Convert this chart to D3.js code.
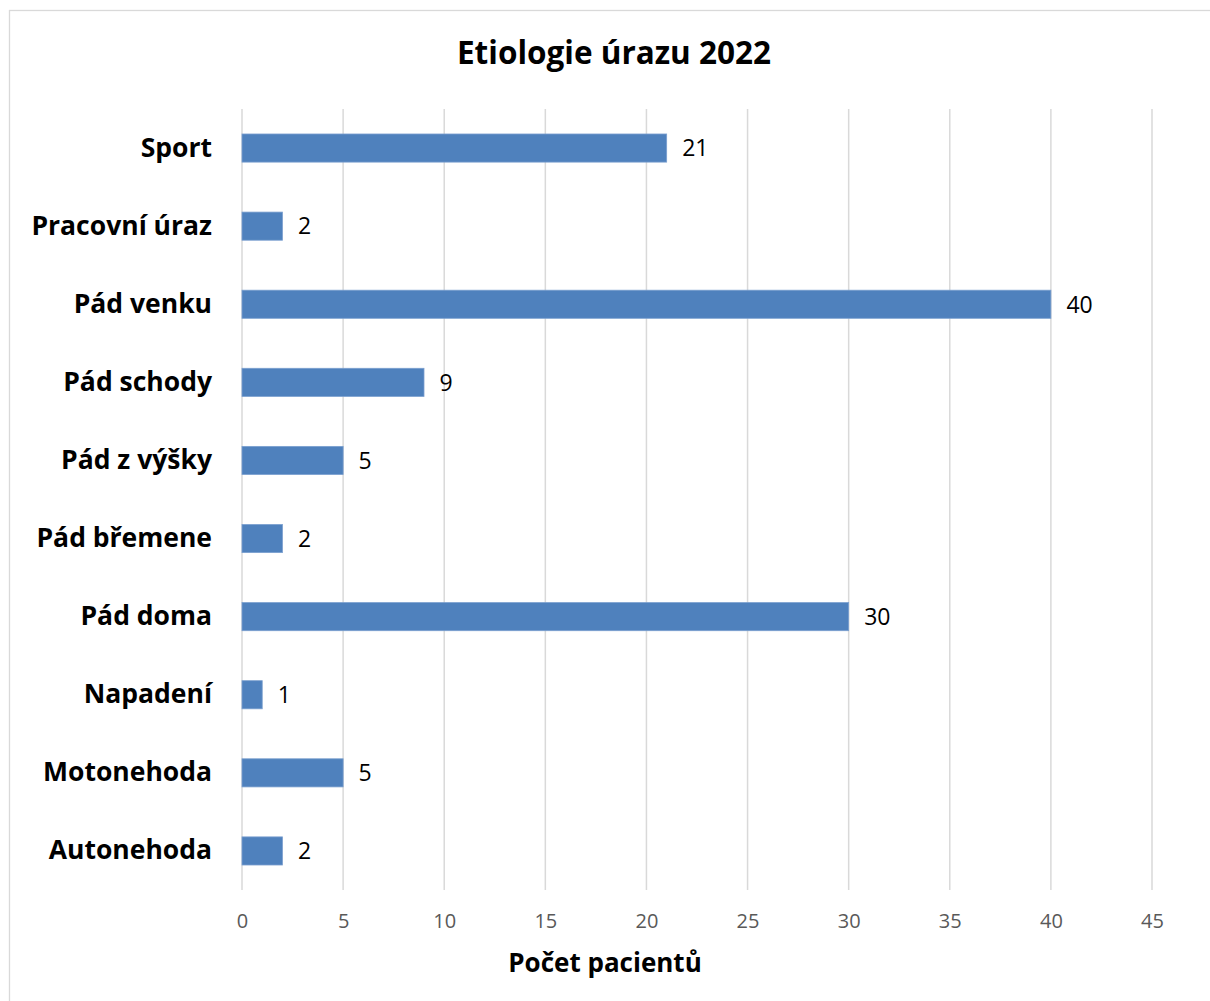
<!DOCTYPE html>
<html>
<head>
<meta charset="utf-8">
<script src="https://cdn.jsdelivr.net/npm/d3@7"></script>
<style>
  html, body { margin: 0; padding: 0; background: #fff; }
  svg { display: block; }
</style>
</head>
<body>
<svg id="chart" width="1210" height="1001"></svg>
<script>
const categories = ["Sport", "Pracovní úraz", "Pád venku", "Pád schody", "Pád z výšky", "Pád břemene", "Pád doma", "Napadení", "Motonehoda", "Autonehoda"];
const values = [21, 2, 40, 9, 5, 2, 30, 1, 5, 2];
const xTicks = [0, 5, 10, 15, 20, 25, 30, 35, 40, 45];
const titleText = "Etiologie úrazu 2022";
const xTitleText = "Počet pacientů";

const W = 1210, H = 1001;
const margin = { left: 242, top: 109 };
const innerW = 1152 - 242;
const innerH = 890 - 109;
const fontFamily = "'Open Sans', 'DejaVu Sans', sans-serif";

const svg = d3.select("#chart");

// chart border
svg.append("rect")
  .attr("x", 9.5).attr("y", 10.5)
  .attr("width", W + 10).attr("height", H + 10)
  .attr("fill", "#fff").attr("stroke", "#d9d9d9").attr("stroke-width", 1.3);

const x = d3.scaleLinear().domain([0, 45]).range([0, innerW]);
const y = d3.scaleBand().domain(categories).range([0, innerH]).paddingInner(0.64).paddingOuter(0.32);

const g = svg.append("g").attr("transform", `translate(${margin.left},${margin.top})`);

// gridlines
g.append("g")
  .selectAll("line")
  .data(xTicks)
  .join("line")
  .attr("x1", d => x(d)).attr("x2", d => x(d))
  .attr("y1", 0).attr("y2", innerH)
  .attr("stroke", "#d9d9d9").attr("stroke-width", 1.5);

// x axis labels
const xAxis = d3.axisBottom(x).tickValues(xTicks).tickSize(0).tickPadding(24);
const xa = g.append("g").attr("transform", `translate(0,${innerH})`).call(xAxis);
xa.select(".domain").remove();
xa.selectAll("text")
  .attr("font-family", fontFamily).attr("font-size", 20)
  .attr("fill", "#595959");

// y axis labels
const yAxis = d3.axisLeft(y).tickSize(0).tickPadding(30);
const ya = g.append("g").call(yAxis);
ya.select(".domain").remove();
ya.selectAll("text")
  .attr("font-family", fontFamily).attr("font-size", 26.5)
  .attr("font-weight", "bold").attr("fill", "#000");

// bars
g.append("g")
  .selectAll("rect")
  .data(values)
  .join("rect")
  .attr("x", x(0))
  .attr("y", (d, i) => y(categories[i]))
  .attr("width", d => x(d) - x(0))
  .attr("height", y.bandwidth())
  .attr("fill", "#4f81bd")
  .attr("stroke", "#7a9fcf").attr("stroke-width", 0.8);

// data labels
g.append("g")
  .selectAll("text")
  .data(values)
  .join("text")
  .attr("x", d => x(d) + 15.5)
  .attr("y", (d, i) => y(categories[i]) + y.bandwidth() / 2)
  .attr("dy", "0.36em")
  .attr("font-family", fontFamily).attr("font-size", 23)
  .attr("fill", "#000")
  .text(d => d);

// title
svg.append("text")
  .attr("x", 614).attr("y", 64)
  .attr("text-anchor", "middle")
  .attr("font-family", fontFamily).attr("font-size", 31.5)
  .attr("font-weight", "bold").attr("fill", "#000")
  .text(titleText);

// x axis title
svg.append("text")
  .attr("x", 605).attr("y", 972)
  .attr("text-anchor", "middle")
  .attr("font-family", fontFamily).attr("font-size", 26)
  .attr("font-weight", "bold").attr("fill", "#000")
  .text(xTitleText);
</script>
</body>
</html>
